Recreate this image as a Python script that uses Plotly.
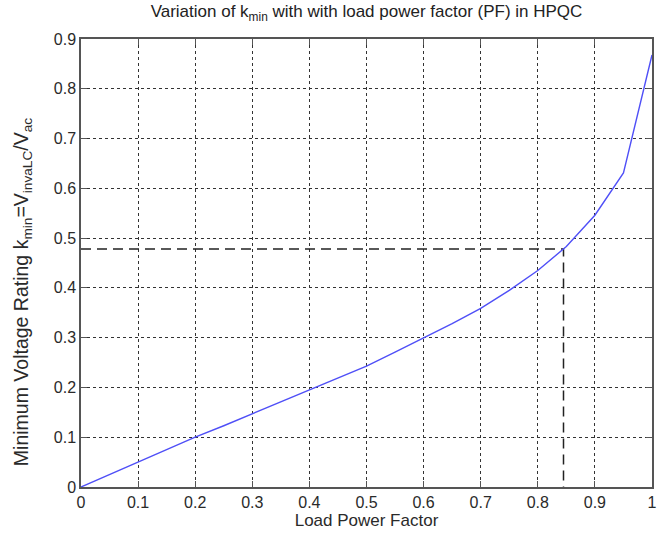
import plotly.graph_objects as go

pf = [0, 0.05, 0.1, 0.15, 0.2, 0.25, 0.3, 0.35, 0.4, 0.45, 0.5,
      0.55, 0.6, 0.65, 0.7, 0.75, 0.8, 0.85, 0.9, 0.95, 1.0]
kmin = [0, 0.025, 0.05, 0.075, 0.1, 0.123, 0.147, 0.171, 0.195, 0.219, 0.243,
        0.271, 0.300, 0.328, 0.359, 0.395, 0.435, 0.483, 0.546, 0.631, 0.868]

marker_pf = 0.845
marker_k = 0.478

xticks = [0, 0.1, 0.2, 0.3, 0.4, 0.5, 0.6, 0.7, 0.8, 0.9, 1]
yticks = [0, 0.1, 0.2, 0.3, 0.4, 0.5, 0.6, 0.7, 0.8, 0.9]
xticktext = ["0", "0.1", "0.2", "0.3", "0.4", "0.5", "0.6", "0.7", "0.8", "0.9", "1"]
yticktext = ["0", "0.1", "0.2", "0.3", "0.4", "0.5", "0.6", "0.7", "0.8", "0.9"]

fig = go.Figure()
fig.add_trace(go.Scatter(x=[0, marker_pf, marker_pf], y=[marker_k, marker_k, 0],
                         mode="lines", line=dict(color="#222222", width=1.5, dash="10px,6px"),
                         hoverinfo="skip"))
fig.add_trace(go.Scatter(x=pf, y=kmin, mode="lines",
                         line=dict(color="#4f4ff7", width=1.4)))

font = "Liberation Sans, Arial, sans-serif"
axis_common = dict(showgrid=True, gridcolor="#333333", griddash="dot", gridwidth=1,
                   showline=True, linecolor="#555555", linewidth=1.5, mirror="ticks",
                   ticks="inside", ticklen=6, tickcolor="#555555", zeroline=False,
                   tickfont=dict(family=font, size=16, color="#2a2a2a"))

fig.update_layout(
    width=670, height=538,
    margin=dict(l=81, r=18, t=39, b=49),
    paper_bgcolor="white", plot_bgcolor="white",
    showlegend=False,
    title=dict(text="Variation of k<sub>min</sub> with with load power factor (PF) in HPQC",
               x=0.5, xref="paper", y=0.99, yanchor="top",
               font=dict(family=font, size=17, color="#222222")),
    xaxis=dict(range=[0, 1], tickvals=xticks, ticktext=xticktext,
               title=dict(text="Load Power Factor", standoff=3,
                          font=dict(family=font, size=17, color="#2a2a2a")),
               **axis_common),
    yaxis=dict(range=[0, 0.9], tickvals=yticks, ticktext=yticktext, **axis_common),
    annotations=[dict(
        text="Minimum Voltage Rating k<sub>min</sub>=V<sub>invaLC</sub>/V<sub>ac</sub>",
        textangle=-90, xref="paper", yref="paper", x=-0.1033, y=0.435,
        xanchor="center", yanchor="middle", showarrow=False,
        font=dict(family=font, size=19.5, color="#2a2a2a"))],
)

fig.write_html("out.html")
